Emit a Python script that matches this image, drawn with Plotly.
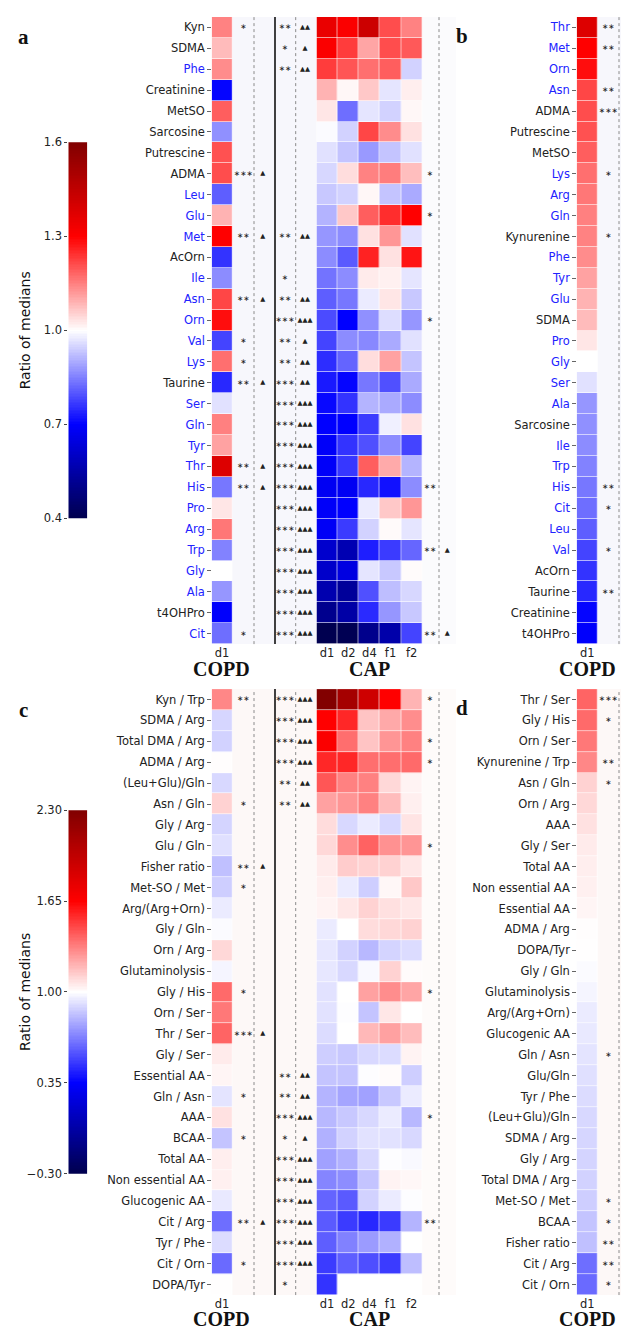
import numpy as np
import plotly.graph_objects as go

# The page body keeps the browser's default 8px margin, so the figure is drawn
# 8px in from the window's top-left corner; geometry below is in window pixels.
OFF = 8
WIN_W, WIN_H = 629, 1336
W, H = WIN_W - OFF, WIN_H - OFF


def px(x):
    return (x - OFF) / W


def py(y):
    return 1 - (y - OFF) / H


# ---------------- DATA ----------------
cap_cols = ["d1", "d2", "d4", "f1", "f2"]

a_labels = ["Kyn", "SDMA", "Phe", "Creatinine", "MetSO", "Sarcosine", "Putrescine", "ADMA",
            "Leu", "Glu", "Met", "AcOrn", "Ile", "Asn", "Orn", "Val", "Lys", "Taurine", "Ser",
            "Gln", "Tyr", "Thr", "His", "Pro", "Arg", "Trp", "Gly", "Ala", "t4OHPro", "Cit"]
amino_blue = ["Phe", "Leu", "Glu", "Met", "Ile", "Asn", "Orn", "Val", "Lys", "Ser", "Gln", "Tyr",
              "Thr", "His", "Pro", "Arg", "Trp", "Gly", "Ala", "Cit"]
a_copd = [1.147, 1.08, 1.135, 0.706, 1.19, 0.87, 1.205, 1.21, 0.81, 1.09, 1.30, 0.76, 0.865,
          1.218, 1.285, 0.78, 1.17, 0.747, 0.965, 1.15, 1.11, 1.38, 0.84, 1.03, 1.16, 0.853,
          1.0, 0.876, 0.695, 0.83]
a_cap = [
    [1.35, 1.31, 1.42, 1.21, 1.147],
    [1.31, 1.23, 1.106, 1.21, 1.195],
    [1.23, 1.20, 1.17, 1.19, 0.947],
    [1.09, 1.01, 1.065, 0.97, 1.02],
    [1.03, 0.83, 0.97, 0.947, 1.01],
    [0.995, 0.947, 1.218, 1.135, 1.035],
    [0.965, 0.93, 0.88, 0.93, 0.965],
    [0.953, 1.04, 1.147, 1.153, 1.076],
    [0.935, 0.947, 1.01, 0.93, 0.90],
    [0.91, 1.065, 1.19, 1.247, 1.30],
    [0.876, 0.865, 1.035, 1.124, 0.965],
    [0.865, 0.806, 1.26, 1.035, 1.276],
    [0.835, 0.865, 1.024, 1.018, 0.97],
    [0.81, 0.84, 0.976, 1.03, 0.935],
    [0.788, 0.70, 0.87, 0.96, 0.876],
    [0.78, 0.865, 0.86, 0.90, 0.965],
    [0.753, 0.818, 1.04, 1.11, 0.93],
    [0.73, 0.706, 0.84, 0.794, 0.90],
    [0.71, 0.76, 0.912, 0.90, 0.865],
    [0.70, 0.70, 0.77, 0.982, 1.035],
    [0.69, 0.76, 0.794, 0.865, 0.78],
    [0.69, 0.765, 1.19, 1.10, 0.912],
    [0.68, 0.68, 0.747, 0.72, 0.865],
    [0.69, 0.70, 0.976, 1.065, 1.124],
    [0.685, 0.77, 0.947, 1.006, 0.97],
    [0.616, 0.57, 0.735, 0.77, 0.82],
    [0.61, 0.65, 0.97, 0.935, 1.005],
    [0.565, 0.53, 0.794, 0.924, 0.953],
    [0.51, 0.55, 0.75, 0.876, 0.935],
    [0.405, 0.41, 0.507, 0.557, 0.78],
]
# significance marks (number of stars / triangles per row)
a_copd_stars = [1, 0, 0, 0, 0, 0, 0, 3, 0, 0, 2, 0, 0, 2, 0, 1, 1, 2, 0, 0, 0, 2, 2, 0, 0, 0, 0, 0, 0, 1]
a_copd_tri = [0, 0, 0, 0, 0, 0, 0, 1, 0, 0, 1, 0, 0, 1, 0, 0, 0, 1, 0, 0, 0, 1, 1, 0, 0, 0, 0, 0, 0, 0]
a_cap_stars = [2, 1, 2, 0, 0, 0, 0, 0, 0, 0, 2, 0, 1, 2, 3, 2, 2, 3, 3, 3, 3, 3, 3, 3, 3, 3, 3, 3, 3, 3]
a_cap_tri = [2, 1, 2, 0, 0, 0, 0, 0, 0, 0, 2, 0, 0, 2, 3, 1, 2, 2, 3, 3, 3, 3, 3, 3, 3, 3, 3, 3, 3, 3]
a_post_stars = [0, 0, 0, 0, 0, 0, 0, 1, 0, 1, 0, 0, 0, 0, 1, 0, 0, 0, 0, 0, 0, 0, 2, 0, 0, 2, 0, 0, 0, 2]
a_post_tri = [0, 0, 0, 0, 0, 0, 0, 0, 0, 0, 0, 0, 0, 0, 0, 0, 0, 0, 0, 0, 0, 0, 0, 0, 0, 1, 0, 0, 0, 1]

b_labels = ["Thr", "Met", "Orn", "Asn", "ADMA", "Putrescine", "MetSO", "Lys", "Arg", "Gln",
            "Kynurenine", "Phe", "Tyr", "Glu", "SDMA", "Pro", "Gly", "Ser", "Ala", "Sarcosine",
            "Ile", "Trp", "His", "Cit", "Leu", "Val", "AcOrn", "Taurine", "Creatinine", "t4OHPro"]
b_keys = [("Kyn" if n == "Kynurenine" else n) for n in b_labels]

c_labels = ["Kyn / Trp", "SDMA / Arg", "Total DMA / Arg", "ADMA / Arg", "(Leu+Glu)/Gln",
            "Asn / Gln", "Gly / Arg", "Glu / Gln", "Fisher ratio", "Met-SO / Met",
            "Arg/(Arg+Orn)", "Gly / Gln", "Orn / Arg", "Glutaminolysis", "Gly / His",
            "Orn / Ser", "Thr / Ser", "Gly / Ser", "Essential AA", "Gln / Asn", "AAA", "BCAA",
            "Total AA", "Non essential AA", "Glucogenic AA", "Cit / Arg", "Tyr / Phe",
            "Cit / Orn", "DOPA/Tyr"]
c_copd = [1.306, 0.895, 0.885, 1.005, 0.90, 1.115, 0.89, 0.92, 0.84, 0.875, 0.95, 0.99, 1.10,
          0.975, 1.38, 1.344, 1.395, 1.05, 1.025, 0.93, 1.076, 0.85, 1.043, 1.038, 0.945, 0.63,
          0.91, 0.62, 1.003]
c_cap = [
    [2.29, 2.11, 1.90, 1.65, 1.19],
    [1.65, 1.55, 1.15, 1.22, 1.29],
    [1.67, 1.37, 1.15, 1.27, 1.32],
    [1.55, 1.55, 1.37, 1.37, 1.38],
    [1.43, 1.32, 1.32, 1.10, 1.03],
    [1.24, 1.27, 1.32, 1.17, 1.04],
    [1.09, 0.90, 0.95, 0.90, 1.07],
    [1.10, 1.29, 1.40, 1.28, 1.27],
    [1.05, 1.13, 1.115, 1.115, 1.06],
    [1.04, 0.95, 0.875, 1.02, 1.14],
    [1.03, 1.06, 1.115, 1.08, 1.06],
    [0.95, 1.0, 1.09, 1.10, 1.115],
    [0.94, 0.885, 0.82, 0.89, 0.91],
    [0.94, 0.90, 0.985, 1.115, 1.01],
    [0.925, 1.0, 1.24, 1.29, 1.23],
    [0.925, 0.995, 0.85, 1.06, 1.0],
    [0.91, 1.0, 1.18, 1.24, 1.17],
    [0.875, 0.86, 0.90, 0.91, 1.03],
    [0.85, 0.85, 0.995, 1.01, 0.875],
    [0.81, 0.77, 0.76, 0.86, 0.95],
    [0.82, 0.86, 0.90, 0.95, 0.82],
    [0.80, 0.885, 0.925, 0.925, 0.90],
    [0.76, 0.80, 0.90, 0.995, 0.985],
    [0.69, 0.71, 0.85, 1.03, 1.02],
    [0.605, 0.58, 0.885, 0.95, 0.995],
    [0.58, 0.50, 0.45, 0.50, 0.81],
    [0.59, 0.68, 0.745, 0.80, 1.0],
    [0.50, 0.59, 0.55, 0.50, 0.835],
    [0.48, 1.0, 1.0, 1.0, 1.0],
]
c_copd_stars = [2, 0, 0, 0, 0, 1, 0, 0, 2, 1, 0, 0, 0, 0, 1, 0, 3, 0, 0, 1, 0, 1, 0, 0, 0, 2, 0, 1, 0]
c_copd_tri = [0, 0, 0, 0, 0, 0, 0, 0, 1, 0, 0, 0, 0, 0, 0, 0, 1, 0, 0, 0, 0, 0, 0, 0, 0, 1, 0, 0, 0]
c_cap_stars = [3, 3, 3, 3, 2, 2, 0, 0, 0, 0, 0, 0, 0, 0, 0, 0, 0, 0, 2, 2, 3, 1, 3, 3, 3, 3, 3, 3, 1]
c_cap_tri = [3, 3, 3, 3, 2, 2, 0, 0, 0, 0, 0, 0, 0, 0, 0, 0, 0, 0, 2, 2, 3, 1, 3, 3, 3, 3, 3, 3, 0]
c_post_stars = [1, 0, 1, 1, 0, 0, 0, 1, 0, 0, 0, 0, 0, 0, 1, 0, 0, 0, 0, 0, 1, 0, 0, 0, 0, 2, 0, 0, 0]
c_post_tri = [0] * 29

d_labels = ["Thr / Ser", "Gly / His", "Orn / Ser", "Kynurenine / Trp", "Asn / Gln", "Orn / Arg",
            "AAA", "Gly / Ser", "Total AA", "Non essential AA", "Essential AA", "ADMA / Arg",
            "DOPA/Tyr", "Gly / Gln", "Glutaminolysis", "Arg/(Arg+Orn)", "Glucogenic AA",
            "Gln / Asn", "Glu/Gln", "Tyr / Phe", "(Leu+Glu)/Gln", "SDMA / Arg", "Gly / Arg",
            "Total DMA / Arg", "Met-SO / Met", "BCAA", "Fisher ratio", "Cit / Arg", "Cit / Orn"]
d_alias = {"Kynurenine / Trp": "Kyn / Trp", "Glu/Gln": "Glu / Gln"}
d_keys = [d_alias.get(n, n) for n in d_labels]

a_ticks = [0.4, 0.7, 1.0, 1.3, 1.6]
a_ticktext = ["0.4", "0.7", "1.0", "1.3", "1.6"]
c_ticks = [-0.3, 0.35, 1.0, 1.65, 2.3]
c_ticktext = ["\u22120.30", "0.35", "1.00", "1.65", "2.30"]

# ---------------- STYLE ----------------
SEISMIC = [[0.0, "rgb(0,0,77)"], [0.25, "rgb(0,0,255)"], [0.5, "rgb(255,255,255)"],
           [0.75, "rgb(255,0,0)"], [1.0, "rgb(128,0,0)"]]
FONT = "DejaVu Sans"
SERIF = "Liberation Serif"
LBL = 11.5
BLUE = "#2222ff"
TXT = "#222222"
GAP = 0.6

# pixel geometry (window pixels)
COPD_X = (211.7, 232.3)
CAP_X = (316.5, 422.3)
B_X = (576.7, 597.7)
CB_X = (68.3, 87.3)
A_Y = (10.0, 643.8)
C_Y = (689.3, 1301.7)
CBA_Y = (136.7, 516.7)
CBC_Y = (811.7, 1179.0)
COL_COPD_STAR, COL_COPD_TRI = 243.3, 262.7
COL_CAP_STAR, COL_CAP_TRI = 285.0, 305.0
COL_POST_STAR, COL_POST_TRI = 430.0, 447.3
COL_B_STAR, COL_B_TRI = 608.3, 625.0

fig = go.Figure()

copd_a = dict(zip(a_labels, a_copd))
copd_c = dict(zip(c_labels, c_copd))
a_st = dict(zip(a_labels, a_copd_stars))
a_tr = dict(zip(a_labels, a_copd_tri))
c_st = dict(zip(c_labels, c_copd_stars))
c_tr = dict(zip(c_labels, c_copd_tri))


def hm(z, x, xa, ya, zmin, zmax):
    return go.Heatmap(z=z, x=x, y=list(range(len(z))),
                      colorscale=SEISMIC, zmin=zmin, zmax=zmax, showscale=False,
                      xgap=GAP, ygap=GAP, xaxis=xa, yaxis=ya, hoverinfo="skip")


# panel a
fig.add_trace(hm([[v] for v in a_copd], ["d1"], "x", "y", 0.4, 1.6))
fig.add_trace(hm(a_cap, cap_cols, "x2", "y", 0.4, 1.6))
# panel b
fig.add_trace(hm([[copd_a[k]] for k in b_keys], ["d1"], "x4", "y2", 0.4, 1.6))
# panel c
fig.add_trace(hm([[v] for v in c_copd], ["d1"], "x5", "y3", -0.3, 2.3))
fig.add_trace(hm(c_cap, cap_cols, "x6", "y3", -0.3, 2.3))
# panel d
fig.add_trace(hm([[copd_c[k]] for k in d_keys], ["d1"], "x7", "y4", -0.3, 2.3))

# colour bars as gradient strips
cba = np.linspace(0.4, 1.6, 241)
cbc = np.linspace(-0.3, 2.3, 261)
fig.add_trace(go.Heatmap(z=[[v] for v in cba], y=cba, x=[0], colorscale=SEISMIC, zmin=0.4,
                         zmax=1.6, showscale=False, xaxis="x8", yaxis="y5", hoverinfo="skip"))
fig.add_trace(go.Heatmap(z=[[v] for v in cbc], y=cbc, x=[0], colorscale=SEISMIC, zmin=-0.3,
                         zmax=2.3, showscale=False, xaxis="x9", yaxis="y6", hoverinfo="skip"))


def marks(counts, ch, xpos, ya, size):
    ys = [i for i, c in enumerate(counts) if c > 0]
    return go.Scatter(x=[xpos - OFF] * len(ys), y=ys, text=[ch * counts[i] for i in ys],
                      mode="text", textfont=dict(size=size, color=TXT, family=FONT),
                      xaxis="x3", yaxis=ya, hoverinfo="skip", showlegend=False)


STAR, TRI = "\u2217", "\u25b2"
SS, TS = 7.5, 6.5
for st, tr, ya in [(a_copd_stars, a_copd_tri, "y"), (c_copd_stars, c_copd_tri, "y3")]:
    fig.add_trace(marks(st, STAR, COL_COPD_STAR, ya, SS))
    fig.add_trace(marks(tr, TRI, COL_COPD_TRI, ya, TS))
for st, tr, ya in [(a_cap_stars, a_cap_tri, "y"), (c_cap_stars, c_cap_tri, "y3")]:
    fig.add_trace(marks(st, STAR, COL_CAP_STAR, ya, SS))
    fig.add_trace(marks(tr, TRI, COL_CAP_TRI, ya, TS))
for st, tr, ya in [(a_post_stars, a_post_tri, "y"), (c_post_stars, c_post_tri, "y3")]:
    fig.add_trace(marks(st, STAR, COL_POST_STAR, ya, SS))
    fig.add_trace(marks(tr, TRI, COL_POST_TRI, ya, TS))
fig.add_trace(marks([a_st[k] for k in b_keys], STAR, COL_B_STAR, "y2", SS))
fig.add_trace(marks([a_tr[k] for k in b_keys], TRI, COL_B_TRI, "y2", TS))
fig.add_trace(marks([c_st[k] for k in d_keys], STAR, COL_B_STAR, "y4", SS))
fig.add_trace(marks([c_tr[k] for k in d_keys], TRI, COL_B_TRI, "y4", TS))


def lab(name, blue):
    if blue:
        return '<span style="color:%s">%s</span>' % (BLUE, name)
    return name


def row_axis(labels, xa, ydom, blue_set=()):
    n = len(labels)
    return dict(domain=[py(ydom[1]), py(ydom[0])], anchor=xa, range=[n - 0.5, -0.5],
                tickmode="array", tickvals=list(range(n)),
                ticktext=[lab(l, l in blue_set) for l in labels],
                ticks="outside", ticklen=3.5, tickwidth=1, tickcolor="#666",
                tickfont=dict(family=FONT, size=LBL, color=TXT),
                showgrid=False, zeroline=False, showline=False)


def col_axis(xdom, ya):
    return dict(domain=[px(xdom[0]), px(xdom[1])], anchor=ya, showgrid=False, zeroline=False,
                showline=False, ticks="", tickfont=dict(family=FONT, size=LBL, color=TXT),
                ticklabelstandoff=0)


def cb_axis(ydom, xa, rng, tv, tt):
    return dict(domain=[py(ydom[1]), py(ydom[0])], anchor=xa, range=rng, tickmode="array",
                tickvals=tv, ticktext=tt, ticks="outside", ticklen=3, tickcolor="#444",
                tickfont=dict(family=FONT, size=LBL, color=TXT), showgrid=False,
                zeroline=False, showline=False)


hidden = dict(visible=False, showgrid=False, zeroline=False)

fig.update_layout(
    width=W, height=H, margin=dict(l=0, r=0, t=0, b=0, pad=0),
    paper_bgcolor="white", plot_bgcolor="rgba(0,0,0,0)", showlegend=False,
    xaxis=col_axis(COPD_X, "y"),
    xaxis2=col_axis(CAP_X, "y"),
    xaxis3=dict(domain=[0, 1], range=[0, W], anchor="y", **hidden),
    xaxis4=col_axis(B_X, "y2"),
    xaxis5=col_axis(COPD_X, "y3"),
    xaxis6=col_axis(CAP_X, "y3"),
    xaxis7=col_axis(B_X, "y4"),
    xaxis8=dict(domain=[px(CB_X[0]), px(CB_X[1])], anchor="y5", **hidden),
    xaxis9=dict(domain=[px(CB_X[0]), px(CB_X[1])], anchor="y6", **hidden),
    yaxis=row_axis(a_labels, "x", A_Y, amino_blue),
    yaxis2=row_axis(b_labels, "x4", A_Y, amino_blue),
    yaxis3=row_axis(c_labels, "x5", C_Y),
    yaxis4=row_axis(d_labels, "x7", C_Y),
    yaxis5=cb_axis(CBA_Y, "x8", [0.4, 1.6], a_ticks, a_ticktext),
    yaxis6=cb_axis(CBC_Y, "x9", [-0.3, 2.3], c_ticks, c_ticktext),
)

shapes = []


def vline(x, y0, y1, dash, color, width):
    shapes.append(dict(type="line", xref="paper", yref="paper", x0=px(x), x1=px(x),
                       y0=py(y1), y1=py(y0), line=dict(color=color, width=width, dash=dash)))


def band(x0, x1, y0, y1, color):
    shapes.append(dict(type="rect", xref="paper", yref="paper", x0=px(x0), x1=min(px(x1), 1),
                       y0=py(y1), y1=py(y0), fillcolor=color, line=dict(width=0),
                       layer="below"))


for (yy, tint, tint2) in [(A_Y, "#f7f7fc", "#fbfbfd"), (C_Y, "#fdf8f7", "#fefbfa")]:
    band(COPD_X[1], CAP_X[0], yy[0], yy[1], tint)
    band(CAP_X[1], 456, yy[0], yy[1], tint2)
    band(B_X[1], WIN_W, yy[0], yy[1], tint)
    for xd in (254.0, 295.7, 439.0, 619.0):
        vline(xd, yy[0], yy[1], "dot", "#8a8a8a", 1)
    vline(275.0, yy[0], yy[1], "solid", "#111111", 1.6)

fig.update_layout(shapes=shapes)

ann = []


def text(x, y, s, size, family=SERIF, angle=0, bold=True):
    ann.append(dict(xref="paper", yref="paper", x=px(x), y=py(y),
                    text=("<b>%s</b>" % s) if bold else s,
                    showarrow=False, xanchor="center", yanchor="middle", textangle=angle,
                    font=dict(family=family, size=size, color="#111")))


text(23, 30, "a", 21)
text(462, 29, "b", 21)
text(23, 710, "c", 21)
text(462, 708, "d", 21)
for yy in (669, 1326):
    text(222, yy, "COPD", 20)
    text(369.4, yy, "CAP", 20)
    text(587.2, yy, "COPD", 20)
text(25, 326.7, "Ratio of medians", 14, family=FONT, angle=-90, bold=False)
text(25, 995.3, "Ratio of medians", 14, family=FONT, angle=-90, bold=False)
fig.update_layout(annotations=ann)

fig.write_html("out.html")
